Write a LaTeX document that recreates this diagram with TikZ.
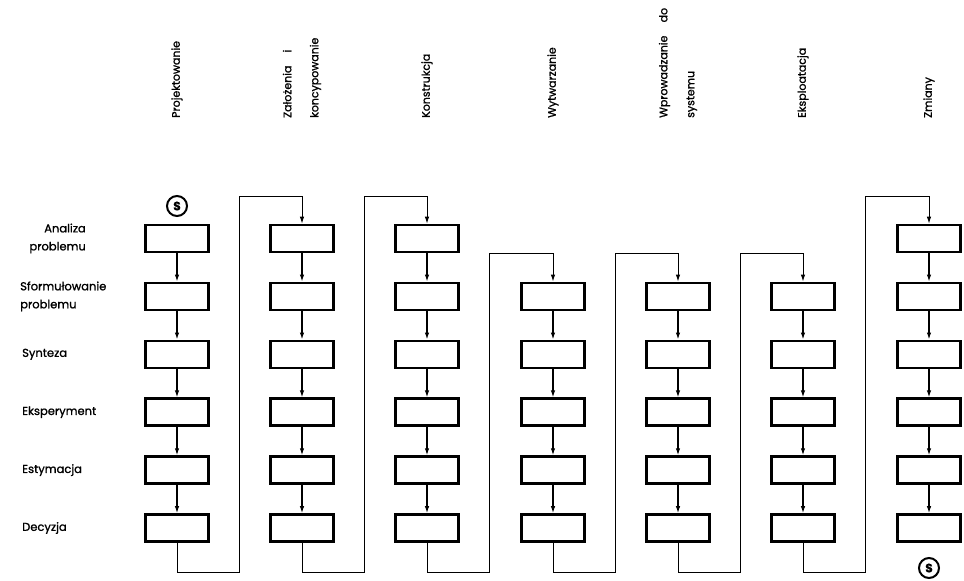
\documentclass[tikz,border=0pt]{standalone}
\usepackage{fontspec}
\setmainfont{Poppins}[FakeBold=1.2]
\usetikzlibrary{arrows.meta}
\begin{document}
\begin{tikzpicture}[x=1pt,y=-1pt,
  box/.style={draw, line width=2.6pt, minimum width=63pt, minimum height=27pt, inner sep=0pt},
  conn/.style={line width=1.2pt},
  loopline/.style={line width=1pt, -{Latex[length=7pt,width=4.5pt]}},
  arr/.style={conn, -{Latex[length=7pt,width=4.5pt]}},
  rowlab/.style={inner sep=0pt, font=\fontsize{11.5}{18}\selectfont},
  phase/.style={rotate=90, anchor=west, align=left, inner sep=0pt, font=\fontsize{11}{27}\selectfont},
  startnode/.style={circle, draw, line width=2pt, minimum size=20pt, inner sep=0pt, font=\bfseries\fontsize{12}{12}\selectfont}]
\useasboundingbox (0,0) rectangle (964,581);

% boxes
\foreach \c/\x/\s in {1/177/1,2/302/1,3/427/1,4/553/2,5/678/2,6/803/2,7/929/1}{
  \foreach \r in {\s,...,6}{
    \pgfmathsetmacro\yy{238.5+57.9*(\r-1)}
    \node[box] (b\c-\r) at (\x,\yy) {};
  }
}
% arrows within columns
\foreach \c/\s in {1/1,2/1,3/1,4/2,5/2,6/2,7/1}{
  \foreach \r in {\s,...,5}{
    \pgfmathtruncatemacro\n{\r+1}
    \draw[arr] (b\c-\r) -- (b\c-\n);
  }
}
% loops between columns
\foreach \c/\x/\t/\s in {1/177/196/1,2/302/196/1,3/427/253/2,4/553/253/2,5/678/253/2,6/803/196/1}{
  \pgfmathtruncatemacro\n{\c+1}
  \coordinate (lb\c) at (\x+62,572);
  \coordinate (lt\c) at (\x+62,\t);
  \draw[loopline] (b\c-6.south) |- (lb\c) -- (lt\c) -| (b\n-\s.north);
}
% start / stop
\node[startnode] (s1) at (177,206) {S};
\node[startnode] (s2) at (929,568) {S};

% phase labels
\node[phase] (p1) at (177,118) {Projektowanie};
\node[phase] (p2) at (302,118) {Założenia\hspace{1.2em}i\\koncypowanie};
\node[phase] (p3) at (427,118) {Konstrukcja};
\node[phase] (p4) at (553,118) {Wytwarzanie};
\node[phase] (p5) at (678,118) {Wprowadzanie\hspace{1.2em}do\\systemu};
\node[phase] (p6) at (803,118) {Eksploatacja};
\node[phase] (p7) at (929,118) {Zmiany};

% row labels
\node[rowlab, align=right, anchor=east] (r1) at (86,238.5) {Analiza\\problemu};
\node[rowlab, align=left, anchor=west] (r2) at (20,296.4) {Sformułowanie\\problemu};
\node[rowlab, anchor=west] (r3) at (22,354.3) {Synteza};
\node[rowlab, anchor=west] (r4) at (22,412.2) {Eksperyment};
\node[rowlab, anchor=west] (r5) at (22,470.1) {Estymacja};
\node[rowlab, anchor=west] (r6) at (22,528) {Decyzja};
\end{tikzpicture}
\end{document}
